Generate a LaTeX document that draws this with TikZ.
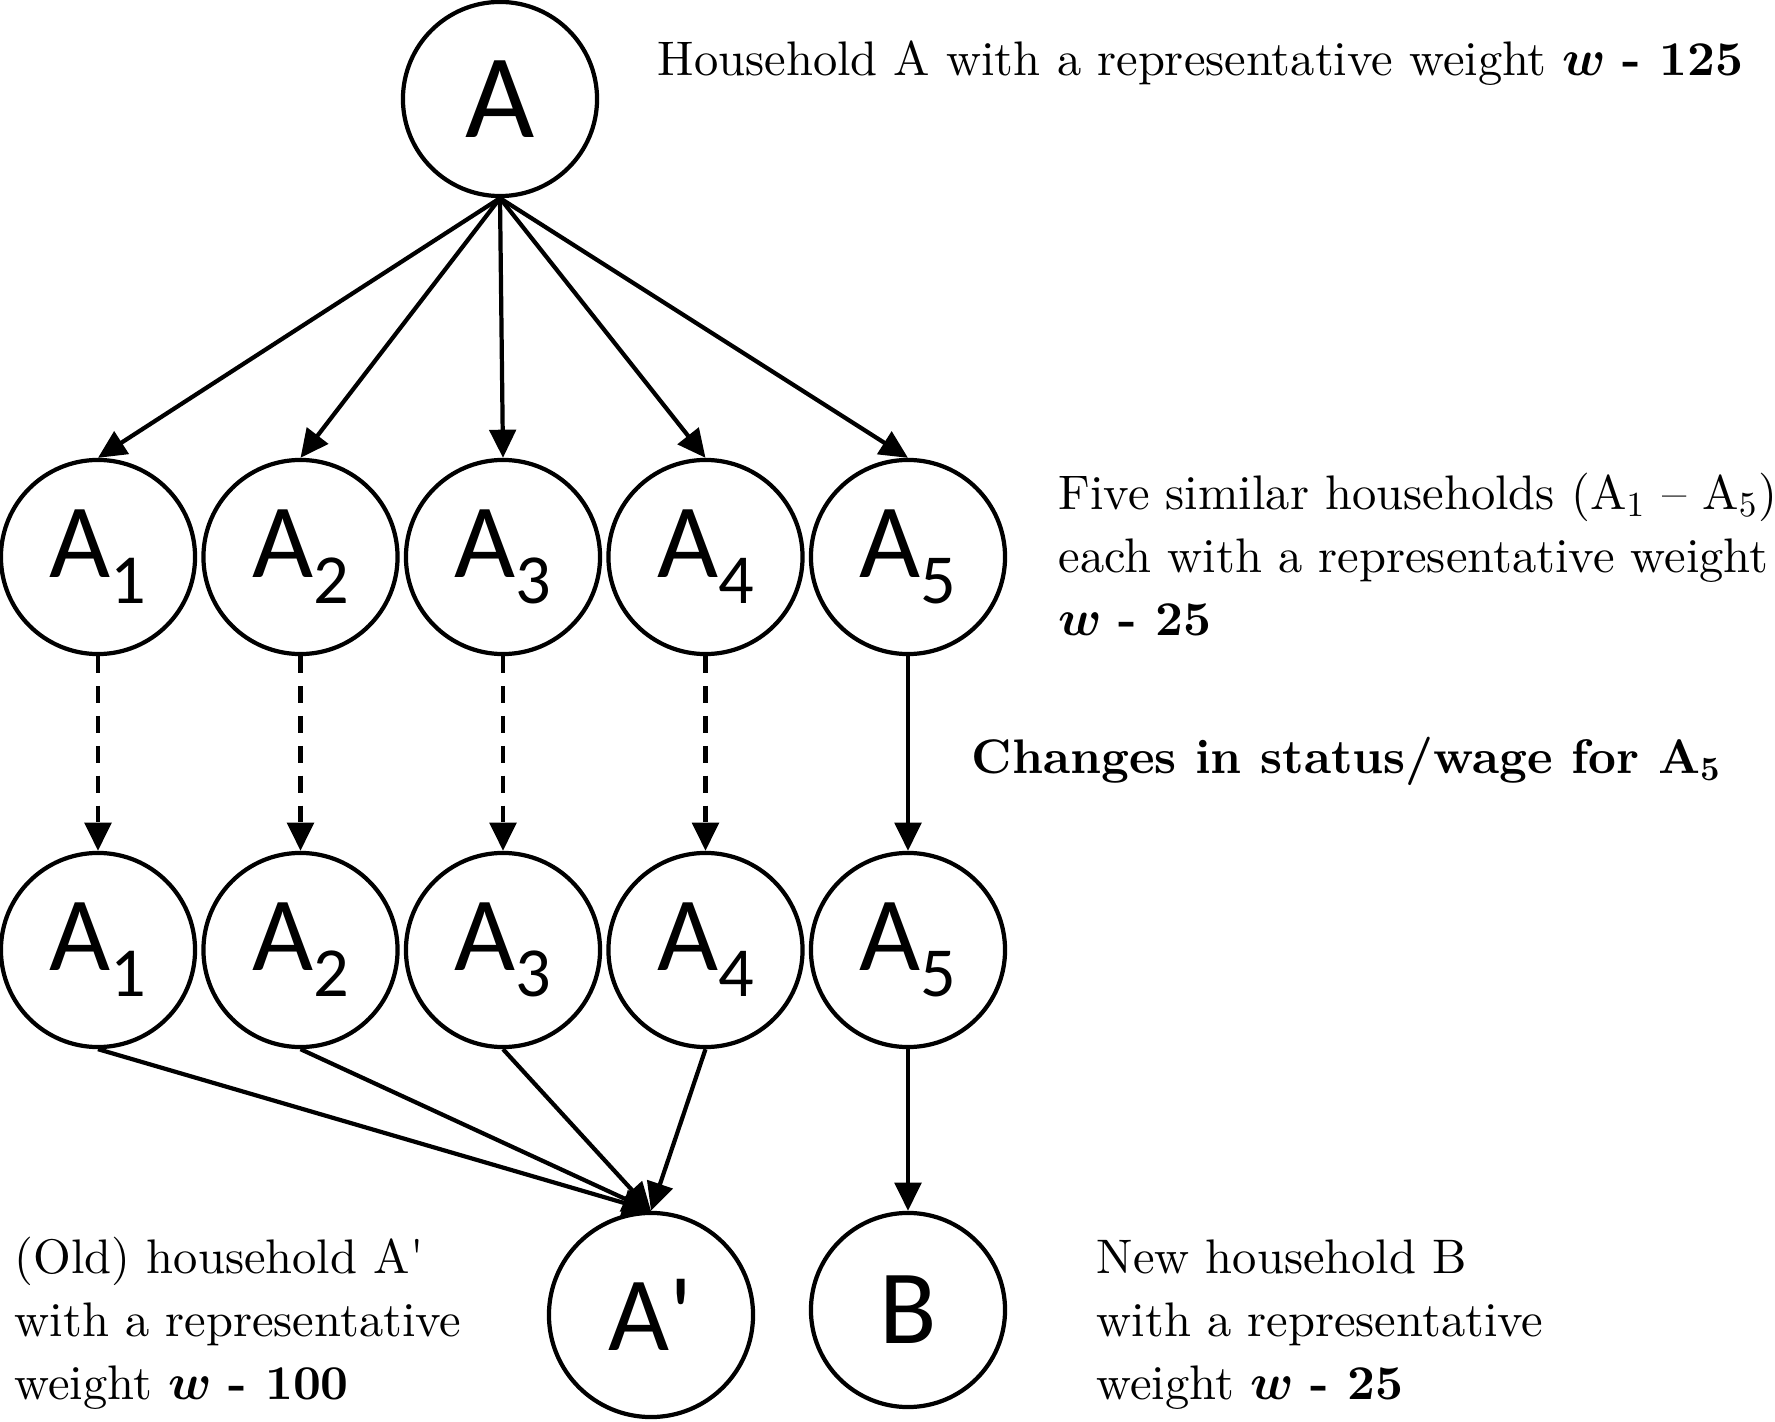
\documentclass[tikz,border=0pt]{standalone}
\usepackage{amsmath}
\usepackage{fontspec}
\setmainfont{lmroman10-regular.otf}[BoldFont=lmroman10-bold.otf, ItalicFont=lmroman10-italic.otf, BoldItalicFont=lmroman10-bolditalic.otf, Ligatures=TeXOff]
\newfontfamily\nodefont{Carlito}[Ligatures=TeXOff]
\usetikzlibrary{arrows.meta}

\tikzset{
  hh/.style={circle, draw, line width=1.2pt, minimum size=1.94cm, inner sep=0pt,
    font=\nodefont\fontsize{30}{30}\selectfont},
  link/.style={line width=1.2pt, -{Triangle[length=8pt,width=7.5pt]}},
  lbl/.style={anchor=north west, inner sep=0pt, align=left,
    font=\fontsize{13.8}{18}\selectfont},
}
\newcommand{\hsub}[1]{\raisebox{-7.4pt}{\fontsize{20}{20}\selectfont #1}}

\begin{document}
\begin{tikzpicture}[x=0.01cm, y=-0.01cm]
  \useasboundingbox (0,0) rectangle (1775,1422);

  % households
  \node[hh, font=\nodefont\fontsize{34}{34}\selectfont] (A) at (500,99) {A};
  \foreach \i in {1,...,5} {
    \node[hh] (top\i) at ({98+202.5*(\i-1)},557) {A\hsub{\i}};
    \node[hh] (bot\i) at ({98+202.5*(\i-1)},950) {A\hsub{\i}};
  }
  \node[hh, minimum size=2.04cm] (Ap) at (651,1315) {A'};
  \node[hh] (B) at (908,1310) {B};

  % splitting and merging
  \foreach \i in {1,...,5}
    \draw[link] (A.south) -- (top\i.north);
  \foreach \i in {1,...,4} {
    \draw[link, dash pattern=on 4.8pt off 3.7pt] (top\i) -- (bot\i);
    \draw[link] (bot\i.south) -- (Ap.north);
  }
  \draw[link] (top5) -- (bot5);
  \draw[link] (bot5) -- (B);

  % labels
  \node[lbl] (labA) at (657,40)
    {Household A with a representative weight $\boldsymbol{w}$ \textbf{- 125}};
  \node[lbl] (labtop) at (1058,472)
    {Five similar households (A$_1$ – A$_5$)\\each with a representative weight\\$\boldsymbol{w}$ \textbf{- 25}};
  \node[lbl, font=\bfseries\fontsize{13.8}{18}\selectfont] (labchg) at (971,736)
    {Changes in status/wage for A$_{\mathbf{5}}$};
  \node[lbl] (labAp) at (14,1236)
    {(Old) household A'\\with a representative\\weight $\boldsymbol{w}$ \textbf{- 100}};
  \node[lbl] (labB) at (1096,1239)
    {New household B\\with a representative\\weight $\boldsymbol{w}$ \textbf{- 25}};
\end{tikzpicture}
\end{document}
